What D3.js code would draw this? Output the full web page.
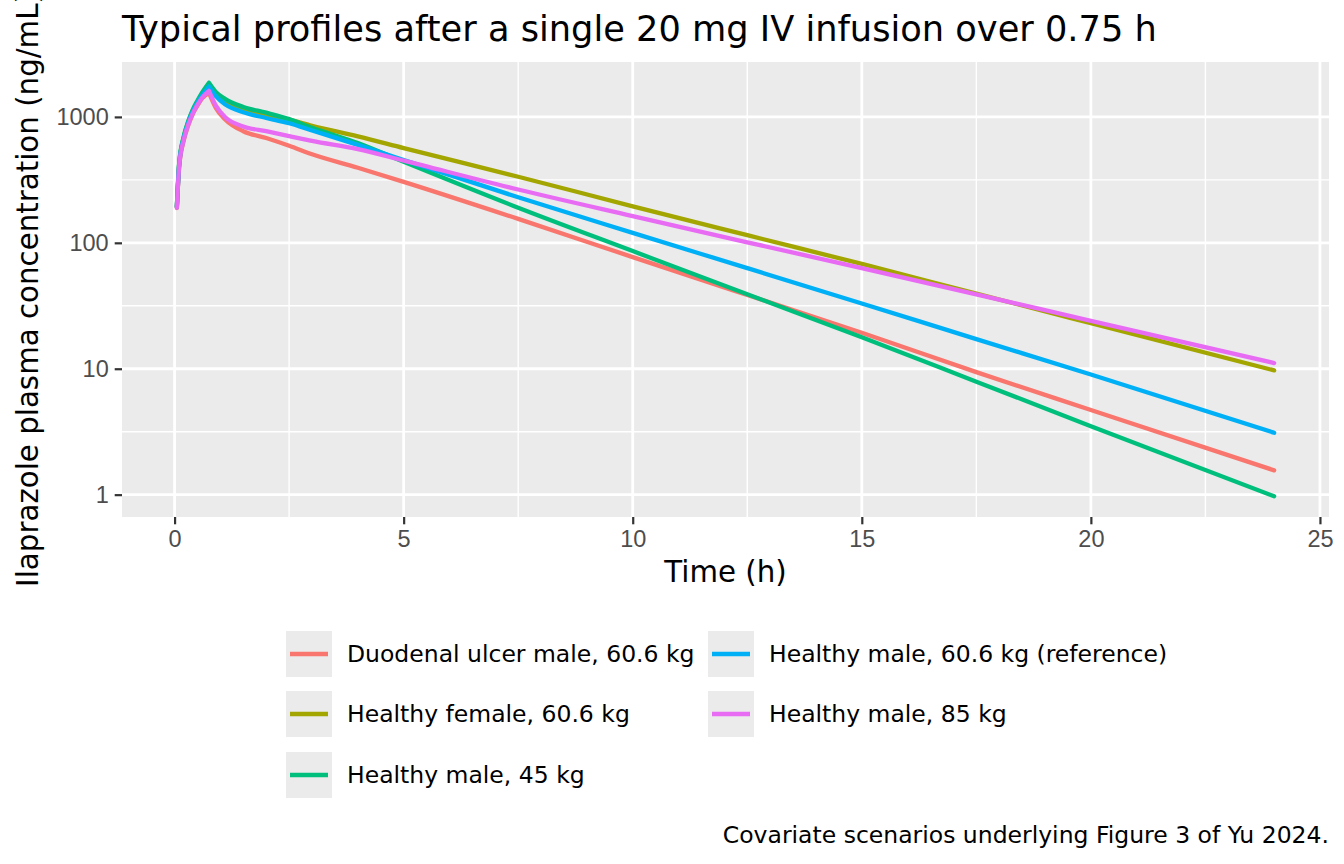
<!DOCTYPE html>
<html lang="en">
<head>
  <meta charset="UTF-8" />
  <title>Ilaprazole typical profiles</title>
  <script src="https://d3js.org/d3.v7.min.js"></script>
  <style>
    body { margin: 0; background: #fff; }
    svg { display: block; font-family: "DejaVu Sans", sans-serif; }
    .tick text { fill: #4d4d4d; font-size: 23.5px; }
    .tick line { stroke: #333; stroke-width: 2.2; }
  </style>
</head>
<body>
  <svg id="chart" width="1344" height="864"></svg>

  <script>
    // values (ng/mL)
    const times = [0.05, 0.1, 0.2, 0.3, 0.4, 0.5, 0.6, 0.75, 0.9, 1.1, 1.5, 2, 2.5, 3, 4, 5, 7.5, 10, 12.5, 15, 17.5, 20, 24];
    const scenarios = [
      "Duodenal ulcer male, 60.6 kg",
      "Healthy female, 60.6 kg",
      "Healthy male, 45 kg",
      "Healthy male, 60.6 kg (reference)",
      "Healthy male, 85 kg"
    ];
    const duodenalMale = [189, 400, 650, 860, 1060, 1230, 1400, 1560, 1180, 960, 770, 680, 590, 505, 395, 305, 155, 77, 38.5, 19.3, 9.4, 4.7, 1.56];
    const healthyFemale = [193, 420, 690, 915, 1130, 1320, 1520, 1800, 1530, 1330, 1150, 1040, 950, 850, 700, 565, 335, 195, 115, 68, 39.5, 23, 9.7];
    const healthyMale45 = [195, 430, 700, 930, 1150, 1350, 1560, 1870, 1580, 1390, 1200, 1080, 960, 820, 620, 440, 190, 86, 39, 17.8, 7.9, 3.5, 0.97];
    const healthyMale606 = [192, 415, 680, 900, 1110, 1300, 1480, 1740, 1460, 1260, 1090, 980, 890, 780, 600, 455, 230, 120, 63, 33, 17.2, 9.0, 3.1];
    const healthyMale85 = [190, 405, 660, 870, 1070, 1250, 1420, 1610, 1230, 1000, 840, 770, 705, 645, 555, 450, 265, 163, 101, 63, 39, 24, 11.1];
    const colours = ["#F8766D", "#A3A500", "#00BF7D", "#00B0F6", "#E76BF3"];
    const xTicks = [0, 5, 10, 15, 20, 25];
    const xMinor = [2.5, 7.5, 12.5, 17.5, 22.5];
    const yTicks = [1, 10, 100, 1000];
    const yMinor = [Math.sqrt(10), Math.sqrt(1000), Math.sqrt(100000)];

    const seriesValues = [duodenalMale, healthyFemale, healthyMale45, healthyMale606, healthyMale85];
    const series = scenarios.map((name, i) => ({
      name,
      colour: colours[i],
      points: times.map((t, j) => ({ t, c: seriesValues[i][j] }))
    }));

    const svg = d3.select("#chart");
    const panel = { left: 122, right: 1329, top: 62, bottom: 517 };

    // ggplot-style 5% expansion
    const [t0, t1] = d3.extent(times);
    const tPad = (t1 - t0) * 0.05;
    const x = d3.scaleLinear()
      .domain([t0 - tPad, t1 + tPad])
      .range([panel.left, panel.right]);

    const allC = seriesValues.flat();
    const lo = Math.log10(d3.min(allC)), hi = Math.log10(d3.max(allC));
    const cPad = (hi - lo) * 0.05;
    const y = d3.scaleLog()
      .domain([10 ** (lo - cPad), 10 ** (hi + cPad)])
      .range([panel.bottom, panel.top]);

    svg.append("rect")
      .attr("x", panel.left).attr("y", panel.top)
      .attr("width", panel.right - panel.left)
      .attr("height", panel.bottom - panel.top)
      .attr("fill", "#ebebeb");

    const grid = svg.append("g").attr("stroke", "#fff");
    grid.selectAll(".xminor").data(xMinor).join("line")
      .attr("x1", d => x(d)).attr("x2", d => x(d))
      .attr("y1", panel.top).attr("y2", panel.bottom)
      .attr("stroke-width", 1.4);
    grid.selectAll(".yminor").data(yMinor).join("line")
      .attr("y1", d => y(d)).attr("y2", d => y(d))
      .attr("x1", panel.left).attr("x2", panel.right)
      .attr("stroke-width", 1.4);
    grid.selectAll(".xmajor").data(xTicks).join("line")
      .attr("x1", d => x(d)).attr("x2", d => x(d))
      .attr("y1", panel.top).attr("y2", panel.bottom)
      .attr("stroke-width", 2.8);
    grid.selectAll(".ymajor").data(yTicks).join("line")
      .attr("y1", d => y(d)).attr("y2", d => y(d))
      .attr("x1", panel.left).attr("x2", panel.right)
      .attr("stroke-width", 2.8);

    // smooth each side of the end-of-infusion peak separately so the cusp stays sharp
    const line = d3.line()
      .x(d => x(d.t))
      .y(d => y(d.c))
      .curve(d3.curveMonotoneX);
    const profilePath = pts => {
      const k = d3.maxIndex(pts, d => d.c);
      return line(pts.slice(0, k + 1)) + line(pts.slice(k));
    };

    svg.append("g")
      .selectAll("path")
      .data(series)
      .join("path")
      .attr("d", d => profilePath(d.points))
      .attr("fill", "none")
      .attr("stroke", d => d.colour)
      .attr("stroke-width", 4.3)
      .attr("stroke-linejoin", "round")
      .attr("stroke-linecap", "round");

    // axes
    const xAxis = svg.append("g")
      .attr("transform", `translate(0,${panel.bottom})`)
      .call(d3.axisBottom(x).tickValues(xTicks).tickSize(7.3).tickPadding(6).tickFormat(d3.format("d")));
    xAxis.select(".domain").remove();
    xAxis.selectAll(".tick text").attr("dy", "0.71em");

    const yAxis = svg.append("g")
      .attr("transform", `translate(${panel.left},0)`)
      .call(d3.axisLeft(y).tickValues(yTicks).tickSize(7.3).tickPadding(6).tickFormat(d3.format("d")));
    yAxis.select(".domain").remove();

    // titles
    svg.append("text")
      .attr("x", panel.left).attr("y", 41)
      .attr("font-size", 35.2)
      .text("Typical profiles after a single 20 mg IV infusion over 0.75 h");

    svg.append("text")
      .attr("x", (panel.left + panel.right) / 2).attr("y", 582)
      .attr("text-anchor", "middle")
      .attr("font-size", 29.3)
      .text("Time (h)");

    svg.append("text")
      .attr("transform", `translate(38,${(panel.top + panel.bottom) / 2}) rotate(-90)`)
      .attr("text-anchor", "middle")
      .attr("font-size", 29.3)
      .text("Ilaprazole plasma concentration (ng/mL)");

    // legend, filled by column, 3 rows
    const legendCols = [286, 708];
    const legendRows = [654, 714, 775];
    const key = 46;
    const legend = svg.append("g")
      .selectAll("g")
      .data(series)
      .join("g")
      .attr("transform", (d, i) => `translate(${legendCols[Math.floor(i / 3)]},${legendRows[i % 3]})`);
    legend.append("rect")
      .attr("x", 0).attr("y", -key / 2)
      .attr("width", key).attr("height", key)
      .attr("fill", "#ebebeb");
    legend.append("line")
      .attr("x1", 4).attr("x2", key - 4)
      .attr("stroke", d => d.colour)
      .attr("stroke-width", 4.3);
    legend.append("text")
      .attr("x", key + 15).attr("y", 8.4)
      .attr("font-size", 23.5)
      .text(d => d.name);

    svg.append("text")
      .attr("x", panel.right).attr("y", 843)
      .attr("text-anchor", "end")
      .attr("font-size", 23.5)
      .text("Covariate scenarios underlying Figure 3 of Yu 2024.");
  </script>
</body>
</html>
